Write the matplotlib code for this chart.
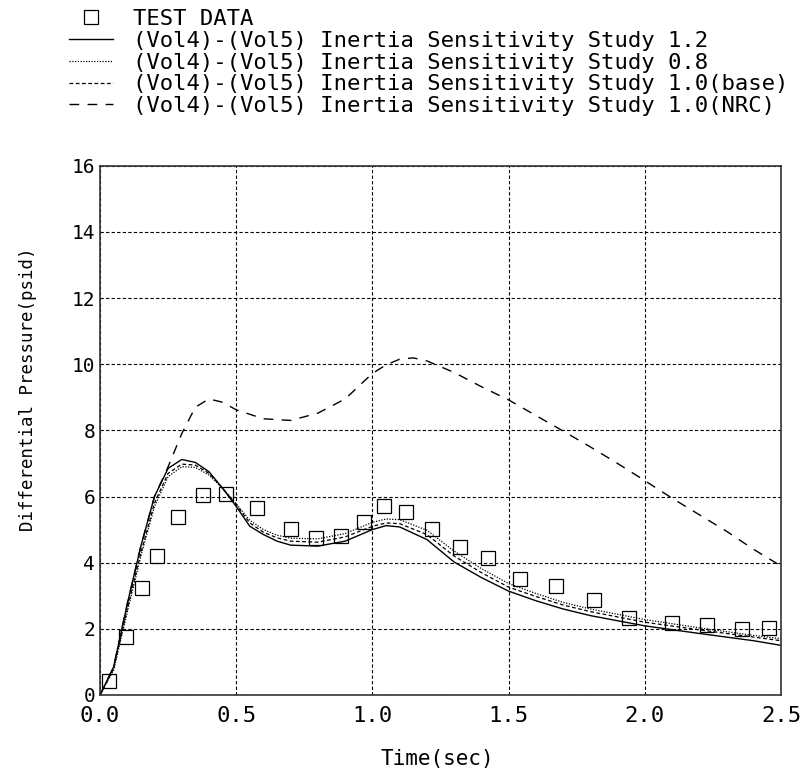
import matplotlib
matplotlib.use('Agg')
import matplotlib.pyplot as plt
from matplotlib.ticker import FormatStrFormatter

plt.rcParams['font.family'] = ['DejaVu Sans Mono']

# test data (sec, psid)
test_t = [0.033, 0.095, 0.154, 0.209, 0.286, 0.378, 0.463, 0.576, 0.70, 0.794,
          0.885, 0.969, 1.043, 1.123, 1.219, 1.322, 1.424, 1.542, 1.674, 1.814,
          1.942, 2.10, 2.228, 2.357, 2.456]
test_p = [0.43, 1.76, 3.22, 4.2, 5.38, 6.05, 6.08, 5.66, 5.02, 4.74,
          4.81, 5.23, 5.72, 5.54, 5.02, 4.47, 4.14, 3.5, 3.29, 2.86,
          2.34, 2.19, 2.13, 1.98, 2.04]

# calculation time grid
t = [0.0, 0.05, 0.1, 0.15, 0.2, 0.25, 0.3, 0.35, 0.4, 0.45, 0.5, 0.55, 0.6,
     0.65, 0.7, 0.8, 0.9, 1.0, 1.05, 1.1, 1.2, 1.3, 1.4, 1.5, 1.6, 1.7, 1.8,
     2.0, 2.2, 2.4, 2.5]
p_12 = [0.0, 0.85, 2.75, 4.5, 6.0, 6.85, 7.12, 7.03, 6.75, 6.25, 5.7, 5.1, 4.85,
        4.65, 4.53, 4.5, 4.65, 5.0, 5.12, 5.08, 4.7, 4.02, 3.55, 3.14, 2.85, 2.6, 2.4,
        2.09, 1.86, 1.64, 1.5]
p_08 = [0.0, 0.75, 2.5, 4.2, 5.7, 6.6, 6.9, 6.88, 6.65, 6.25, 5.78, 5.28, 5.0,
        4.83, 4.74, 4.72, 4.88, 5.22, 5.32, 5.3, 4.98, 4.35, 3.82, 3.37, 3.07, 2.8, 2.6,
        2.28, 2.03, 1.8, 1.7]
p_base = [0.0, 0.8, 2.6, 4.3, 5.8, 6.7, 6.98, 6.95, 6.7, 6.25, 5.75, 5.2, 4.92,
          4.75, 4.65, 4.62, 4.78, 5.1, 5.2, 5.18, 4.85, 4.2, 3.7, 3.26, 2.98, 2.72, 2.52,
          2.2, 1.97, 1.75, 1.64]

t_nrc = [0.0, 0.05, 0.1, 0.15, 0.2, 0.25, 0.3, 0.35, 0.4, 0.45, 0.5, 0.6, 0.7,
         0.8, 0.9, 1.0, 1.05, 1.1, 1.15, 1.2, 1.3, 1.4, 1.5, 1.6, 1.7, 1.8, 1.9,
         2.0, 2.1, 2.2, 2.3, 2.4, 2.5]
p_nrc = [0.0, 0.85, 2.75, 4.5, 6.0, 6.9, 7.9, 8.7, 8.95, 8.85, 8.62, 8.35, 8.3,
         8.52, 8.95, 9.72, 9.98, 10.15, 10.19, 10.1, 9.75, 9.32, 8.92, 8.45, 7.98, 7.5, 7.0,
         6.48, 5.95, 5.45, 4.95, 4.4, 3.9]

labels = ['TEST DATA',
          '(Vol4)-(Vol5) Inertia Sensitivity Study 1.2',
          '(Vol4)-(Vol5) Inertia Sensitivity Study 0.8',
          '(Vol4)-(Vol5) Inertia Sensitivity Study 1.0(base)',
          '(Vol4)-(Vol5) Inertia Sensitivity Study 1.0(NRC)']

fig = plt.figure(figsize=(8.02, 7.78), dpi=100)
ax = fig.add_axes([0.1247, 0.1067, 0.8491, 0.6803])

ax.plot(test_t, test_p, 's', ms=9.7, mfc='none', mec='k', mew=0.9,
        clip_on=False, label=labels[0], zorder=4)
ax.plot(t, p_12, '-', color='k', lw=1.0, label=labels[1])
ax.plot(t, p_08, color='k', lw=0.9, linestyle=(0, (1, 1.2)), label=labels[2])
ax.plot(t, p_base, color='k', lw=0.9, linestyle=(0, (3, 2)), label=labels[3])
ax.plot(t_nrc, p_nrc, color='k', lw=1.0, linestyle=(0, (7, 6)), label=labels[4])

ax.set_xlim(0, 2.5)
ax.set_ylim(0, 16)
ax.set_xticks([0.0, 0.5, 1.0, 1.5, 2.0, 2.5])
ax.set_yticks(range(0, 17, 2))
ax.xaxis.set_major_formatter(FormatStrFormatter('%.1f'))
ax.tick_params(axis='x', length=0, pad=8, labelsize=16)
ax.tick_params(axis='y', length=0, pad=3.5, labelsize=14)

ax.grid(True, color='k', lw=0.8, linestyle=(0, (3, 2)))
ax.set_axisbelow(True)
for s in ax.spines.values():
    s.set_linewidth(1.2)
    s.set_color('#333333')

ax.set_xlabel('Time(sec)', fontsize=15)
ax.set_ylabel('Differential Pressure(psid)', fontsize=12.5)
ax.xaxis.set_label_coords(0.495, -0.102)
ax.yaxis.set_label_coords(-0.0925, 0.578)

ax.legend(loc='upper left', bbox_to_anchor=(0.086, 0.9885),
          bbox_transform=fig.transFigure, frameon=False, fontsize=16,
          borderpad=0, borderaxespad=0, labelspacing=0.08,
          handlelength=2.0, handletextpad=0.9)

fig.savefig('out.png', dpi=100)
